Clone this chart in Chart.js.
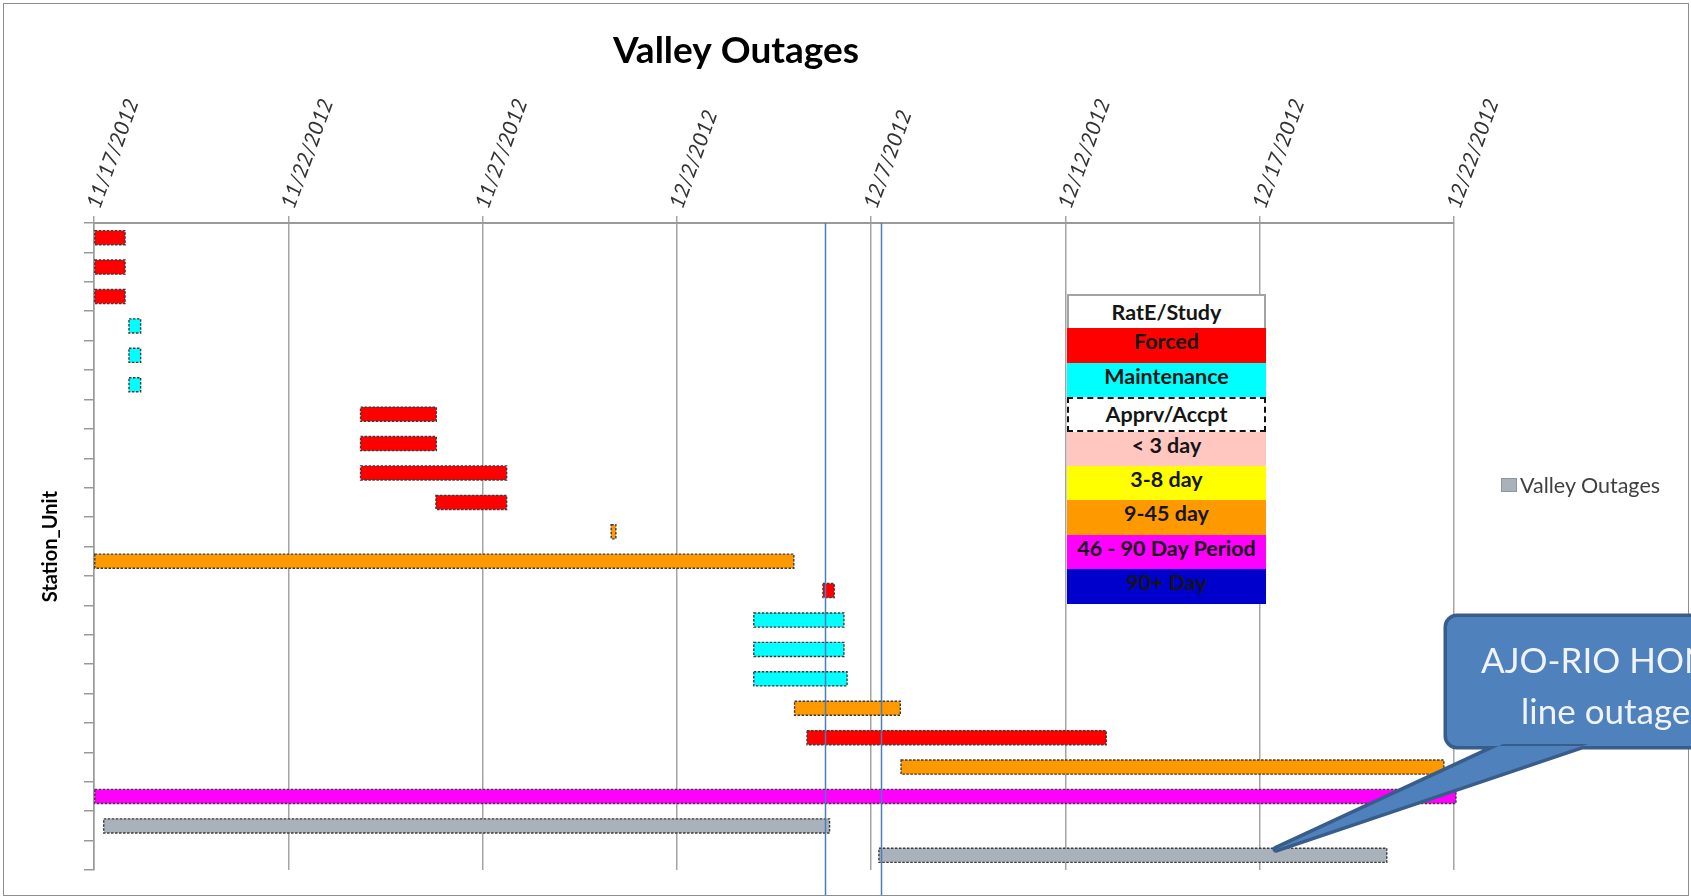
<!DOCTYPE html>
<html>
<head>
<meta charset="utf-8">
<title>Valley Outages</title>
<script src="https://cdn.jsdelivr.net/npm/chart.js@4.4.1/dist/chart.umd.min.js"></script>
<style>
  html, body { margin: 0; padding: 0; background: #fff; overflow: hidden; }
  #wrap { position: relative; width: 1691px; height: 896px; }
  #frame { position: absolute; left: 3px; top: 3px; width: 1686px; height: 893px;
           border: 1.5px solid #8e8e8e; box-sizing: border-box; }
  #chart { position: absolute; left: 0; top: 0; }
  #rate { position: absolute; left: 1067px; top: 294px; width: 199px; }
  #rate div { height: 34.4px; line-height: 36px; text-align: center; color: #151515;
              font: bold 21.5px Lato, sans-serif; box-sizing: border-box; white-space: nowrap; }
  #rate div.study { border: 2px solid #a3a3a3; border-bottom: none; line-height: 32px; }
  #rate div.apprv { border: 2.5px dashed #111; line-height: 31px; }
  #key { position: absolute; left: 1501px; top: 472px; display: flex; align-items: center;
         font: 21.5px Lato, sans-serif; color: #404040; }
  #key span { display: inline-block; width: 16px; height: 14px; margin-right: 3px;
              border: 1px solid #8d95a0; box-sizing: border-box; }
</style>
</head>
<body>
<div id="wrap">
  <div id="frame"></div>
  <canvas id="chart" width="1691" height="896"></canvas>
  <div id="rate"></div>
  <div id="key"><span></span><b style="font-weight:normal">Valley Outages</b></div>
</div>
<script>
// ---------- data ----------
const units = ['U01','U02','U03','U04','U05','U06','U07','U08','U09','U10','U11',
               'U12','U13','U14','U15','U16','U17','U18','U19','U20','U21','U22'];

// days after 11/17/2012
const outageStart = [0, 0, 0, 0.9, 0.9, 0.9, 6.86, 6.86, 6.86, 8.8, 13.31,
                     0, 18.76, 16.98, 16.98, 16.98, 18.03, 18.35, 20.77, 0, 0.25, 20.2];
const outageEnd   = [0.8, 0.8, 0.8, 1.2, 1.2, 1.2, 8.81, 8.81, 10.62, 10.62, 13.43,
                     18.01, 19.05, 19.3, 19.3, 19.38, 20.75, 26.05, 34.74, 35.05, 18.93, 33.27];
const outageType  = ['Forced','Forced','Forced','Maintenance','Maintenance','Maintenance',
                     'Forced','Forced','Forced','Forced','9-45 day','9-45 day','Forced',
                     'Maintenance','Maintenance','Maintenance','9-45 day','Forced','9-45 day',
                     '46 - 90 Day Period','Valley Outages','Valley Outages'];

const dateTicks = ['11/17/2012','11/22/2012','11/27/2012','12/2/2012',
                   '12/7/2012','12/12/2012','12/17/2012','12/22/2012'];
const tickStep = 5;

const todayLines = [18.81, 20.25];

const rateLegend = ['RatE/Study','Forced','Maintenance','Apprv/Accpt','< 3 day',
                    '3-8 day','9-45 day','46 - 90 Day Period','90+ Day'];

const calloutLines = ['AJO-RIO HONDO', 'line outage'];
const calloutTarget = { row: 21, day: 30.42 };

// ---------- styles ----------
const typeColors = {
    'RatE/Study': '#ffffff',
    'Forced': '#ff0000',
    'Maintenance': '#00ffff',
    'Apprv/Accpt': '#ffffff',
    '< 3 day': '#ffc7c0',
    '3-8 day': '#ffff00',
    '9-45 day': '#ff9900',
    '46 - 90 Day Period': '#ff00ff',
    '90+ Day': '#0000cc',
    'Valley Outages': '#a9b1bb'
};

// rate/study key (cells sit on top of the plot, like in the sheet)
const rateBox = document.getElementById('rate');
rateLegend.forEach(name => {
    const cell = document.createElement('div');
    cell.textContent = name;
    cell.style.background = typeColors[name];
    if (name === 'RatE/Study') cell.className = 'study';
    if (name === 'Apprv/Accpt') cell.className = 'apprv';
    rateBox.appendChild(cell);
});
document.querySelector('#key span').style.background = typeColors['Valley Outages'];

// dashed outlines, "today" lines and the callout
const extrasPlugin = {
    id: 'extras',
    afterDatasetsDraw(chart) {
        const ctx = chart.ctx;
        const meta = chart.getDatasetMeta(0);
        ctx.save();
        ctx.setLineDash([2.5, 1.5]);
        ctx.lineWidth = 1.4;
        ctx.strokeStyle = '#3a3a3a';
        meta.data.forEach(bar => {
            const p = bar.getProps(['x', 'y', 'base', 'height'], true);
            const left = Math.min(p.x, p.base);
            ctx.strokeRect(left, p.y - p.height / 2, Math.abs(p.x - p.base), p.height);
        });
        ctx.restore();

        const xs = chart.scales.x;
        ctx.save();
        ctx.strokeStyle = '#4a7ebb';
        ctx.lineWidth = 1.5;
        todayLines.forEach(d => {
            const px = Math.round(xs.getPixelForValue(d)) + 0.5;
            ctx.beginPath();
            ctx.moveTo(px, chart.chartArea.top);
            ctx.lineTo(px, chart.height - 1);
            ctx.stroke();
        });
        ctx.restore();
    },
    afterDraw(chart) {
        const ctx = chart.ctx;
        const tipX = chart.scales.x.getPixelForValue(calloutTarget.day);
        const tipY = chart.scales.y.getPixelForValue(calloutTarget.row) - 6;

        const shape = () => {
            ctx.beginPath();
            ctx.roundRect(1447, 617, 320, 129, 10);
            ctx.moveTo(1503, 744);
            ctx.lineTo(tipX, tipY);
            ctx.lineTo(1588, 744);
            ctx.closePath();
        };
        ctx.save();
        ctx.lineJoin = 'round';
        ctx.lineWidth = 7;
        ctx.strokeStyle = '#385d8a';
        shape();
        ctx.stroke();
        ctx.fillStyle = '#4f81bd';
        shape();
        ctx.fill();

        ctx.fillStyle = '#f0f4fa';
        ctx.font = '35px Lato, sans-serif';
        ctx.textAlign = 'left';
        ctx.fillText(calloutLines[0], 1481, 673);
        ctx.fillText(calloutLines[1], 1521, 724);
        ctx.restore();
    }
};

new Chart(document.getElementById('chart'), {
    type: 'bar',
    data: {
        labels: units,
        datasets: [{
            label: 'Valley Outages',
            data: units.map((u, i) => [outageStart[i], outageEnd[i]]),
            backgroundColor: outageType.map(t => typeColors[t]),
            borderWidth: 0,
            borderSkipped: false,
            borderRadius: 2,
            barPercentage: 0.48,
            categoryPercentage: 1,
            clip: false
        }]
    },
    options: {
        indexAxis: 'y',
        responsive: false,
        animation: false,
        layout: { padding: { left: 18, right: 237, top: 0, bottom: 26 } },
        plugins: {
            legend: { display: false },
            tooltip: { enabled: false },
            title: {
                display: true,
                text: 'Valley Outages',
                color: '#000',
                font: { family: 'Lato', size: 37, weight: 'bold' },
                padding: { top: 29, bottom: 5 }
            }
        },
        scales: {
            x: {
                type: 'linear',
                position: 'top',
                min: 0,
                max: 35,
                afterFit: s => { s.height = 144.6; },
                afterBuildTicks: s => {
                    s.ticks = dateTicks.map((t, i) => ({ value: i * tickStep }));
                },
                ticks: {
                    minRotation: 70,
                    maxRotation: 70,
                    padding: 4,
                    labelOffset: 23,
                    color: '#333',
                    font: { family: 'Lato', size: 21, style: 'italic' },
                    callback: v => dateTicks[v / tickStep]
                },
                grid: { color: '#a4a4a4', lineWidth: 1.5, tickLength: 7 },
                border: { color: '#9a9a9a', width: 2 }
            },
            y: {
                afterFit: s => { s.width = 76; },
                ticks: { display: false },
                grid: {
                    drawOnChartArea: false,
                    offset: true,
                    tickLength: 10,
                    color: '#9a9a9a',
                    lineWidth: 1.5
                },
                border: { color: '#9a9a9a', width: 1.5 },
                title: {
                    display: true,
                    text: 'Station_Unit',
                    color: '#000',
                    font: { family: 'Lato', size: 20, weight: 'bold' },
                    padding: { top: 21, bottom: 0 }
                }
            }
        }
    },
    plugins: [extrasPlugin]
});
</script>
</body>
</html>
